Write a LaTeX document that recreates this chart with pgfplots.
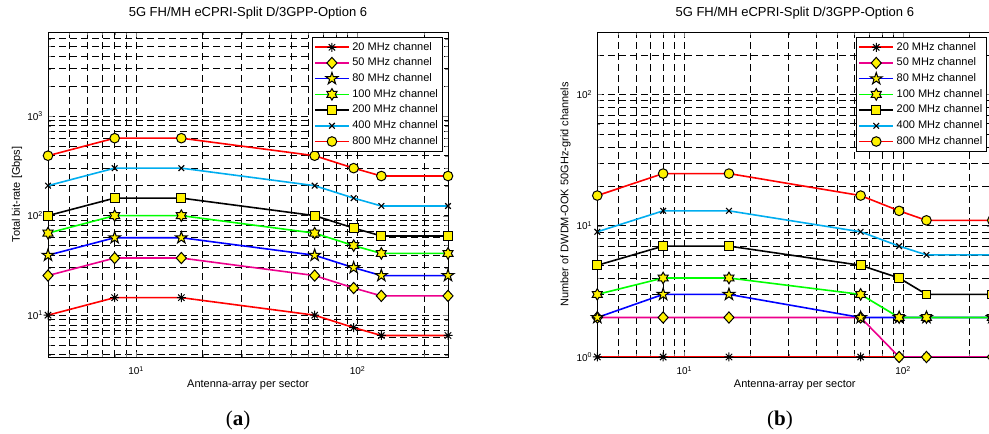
\documentclass[border=0pt]{standalone}
\usepackage{pgfplots}
\pgfplotsset{compat=1.18}
\usepackage{fontspec}
\setmainfont{Liberation Sans}
\newfontfamily\capfont{Liberation Serif}

\pgfdeclareplotmark{pentagram*}{%
  \pgfpathmoveto{\pgfpointpolar{90}{\pgfplotmarksize}}%
  \pgfpathlineto{\pgfpointpolar{126}{0.382\pgfplotmarksize}}%
  \pgfpathlineto{\pgfpointpolar{162}{\pgfplotmarksize}}%
  \pgfpathlineto{\pgfpointpolar{198}{0.382\pgfplotmarksize}}%
  \pgfpathlineto{\pgfpointpolar{234}{\pgfplotmarksize}}%
  \pgfpathlineto{\pgfpointpolar{270}{0.382\pgfplotmarksize}}%
  \pgfpathlineto{\pgfpointpolar{306}{\pgfplotmarksize}}%
  \pgfpathlineto{\pgfpointpolar{342}{0.382\pgfplotmarksize}}%
  \pgfpathlineto{\pgfpointpolar{18}{\pgfplotmarksize}}%
  \pgfpathlineto{\pgfpointpolar{54}{0.382\pgfplotmarksize}}%
  \pgfpathclose
  \pgfusepathqfillstroke}
\pgfdeclareplotmark{hexagram*}{%
  \pgfpathmoveto{\pgfpointpolar{90}{\pgfplotmarksize}}%
  \pgfpathlineto{\pgfpointpolar{120}{0.577\pgfplotmarksize}}%
  \pgfpathlineto{\pgfpointpolar{150}{\pgfplotmarksize}}%
  \pgfpathlineto{\pgfpointpolar{180}{0.577\pgfplotmarksize}}%
  \pgfpathlineto{\pgfpointpolar{210}{\pgfplotmarksize}}%
  \pgfpathlineto{\pgfpointpolar{240}{0.577\pgfplotmarksize}}%
  \pgfpathlineto{\pgfpointpolar{270}{\pgfplotmarksize}}%
  \pgfpathlineto{\pgfpointpolar{300}{0.577\pgfplotmarksize}}%
  \pgfpathlineto{\pgfpointpolar{330}{\pgfplotmarksize}}%
  \pgfpathlineto{\pgfpointpolar{0}{0.577\pgfplotmarksize}}%
  \pgfpathlineto{\pgfpointpolar{30}{\pgfplotmarksize}}%
  \pgfpathlineto{\pgfpointpolar{60}{0.577\pgfplotmarksize}}%
  \pgfpathclose
  \pgfusepathqfillstroke}
\pgfdeclareplotmark{mdiamond*}{%
  \pgfpathmoveto{\pgfqpoint{0pt}{\pgfplotmarksize}}%
  \pgfpathlineto{\pgfqpoint{0.9\pgfplotmarksize}{0pt}}%
  \pgfpathlineto{\pgfqpoint{0pt}{-\pgfplotmarksize}}%
  \pgfpathlineto{\pgfqpoint{-0.9\pgfplotmarksize}{0pt}}%
  \pgfpathclose
  \pgfusepathqfillstroke}
\pgfdeclareplotmark{matast}{%
  \pgfpathmoveto{\pgfqpoint{0pt}{\pgfplotmarksize}}%
  \pgfpathlineto{\pgfqpoint{0pt}{-\pgfplotmarksize}}%
  \pgfpathmoveto{\pgfqpoint{\pgfplotmarksize}{0pt}}%
  \pgfpathlineto{\pgfqpoint{-\pgfplotmarksize}{0pt}}%
  \pgfpathmoveto{\pgfqpoint{0.707\pgfplotmarksize}{0.707\pgfplotmarksize}}%
  \pgfpathlineto{\pgfqpoint{-0.707\pgfplotmarksize}{-0.707\pgfplotmarksize}}%
  \pgfpathmoveto{\pgfqpoint{0.707\pgfplotmarksize}{-0.707\pgfplotmarksize}}%
  \pgfpathlineto{\pgfqpoint{-0.707\pgfplotmarksize}{0.707\pgfplotmarksize}}%
  \pgfusepathqstroke}

\tikzset{
  ymark/.style={mark options={draw=black, fill=yellow, solid, line width=1pt}},
  serA/.style={red, line width=1.6pt, mark=matast, mark size=4.5pt, mark options={black, solid, line width=1pt}},
  serB/.style={magenta, line width=1.6pt, mark=mdiamond*, mark size=5.6pt, ymark},
  serC/.style={blue, line width=1.6pt, mark=pentagram*, mark size=6.3pt, ymark},
  serD/.style={green, line width=1.6pt, mark=hexagram*, mark size=5.8pt, ymark},
  serE/.style={black, line width=1.6pt, mark=square*, mark size=4.4pt, ymark},
  serF/.style={cyan, line width=1.6pt, mark=x, mark size=4pt, mark options={black, solid, line width=1.1pt}},
  serG/.style={red, line width=1.6pt, mark=*, mark size=4.8pt, ymark},
}
\pgfplotsset{
  every axis/.append style={
    scale only axis, height=325pt,
    xmin=4, xmax=256,
    grid=both,
    major grid style={dash pattern=on 7pt off 4pt, line width=0.6pt, black},
    minor grid style={dash pattern=on 7pt off 4pt, line width=0.6pt, black},
    axis line style={line width=0.9pt, black},
    major tick length=5pt, minor tick length=3pt,
    tick align=inside,
    xtick={10,100}, xticklabels={10\textsuperscript{1},10\textsuperscript{2}},
    minor xtick={4,5,6,7,8,9,20,30,40,50,60,70,80,90,200},
    xticklabel style={anchor=base, yshift=-18pt, inner sep=0pt, font=\fontsize{10}{12}\selectfont},
    yticklabel style={anchor=east, xshift=-5pt, inner sep=0pt, font=\fontsize{10}{12}\selectfont},
    title style={at={(0.5,1)}, anchor=base, yshift=9.3pt, font=\fontsize{13}{15}\selectfont},
    xlabel style={at={(0.5,0)}, anchor=base, yshift=-31pt, font=\fontsize{11}{13}\selectfont},
    ylabel style={anchor=base, font=\fontsize{11}{13}\selectfont},
    legend cell align=left,
    legend style={at={(1,1)}, anchor=north east, xshift=-5pt, yshift=-5pt, draw=black, line width=0.9pt, fill=white, inner sep=2pt, row sep=0pt, font=\fontsize{11}{13}\selectfont, nodes={text height=8pt, text depth=2.5pt, inner sep=2.6pt}},
    legend image code/.code={\draw[mark repeat=2,mark phase=2] plot coordinates {(0pt,0pt) (17pt,0pt) (34pt,0pt)};},
  }
}

\begin{document}
\begin{tikzpicture}
\useasboundingbox (0,0) rectangle (989pt,434pt);

\begin{loglogaxis}[at={(48pt,77pt)}, anchor=south west, width=400pt,
  ymin=3.8, ymax=7000,
  ytick={10,100,1000}, yticklabels={10\textsuperscript{1},10\textsuperscript{2},10\textsuperscript{3}},
  minor ytick={4,5,6,7,8,9,20,30,40,50,60,70,80,90,200,300,400,500,600,700,800,900,2000,3000,4000,5000,6000,7000},
  title={5G FH/MH eCPRI-Split D/3GPP-Option 6},
  xlabel={Antenna-array per sector},
  ylabel={Total bit-rate [Gbps]},
  ylabel style={at={(axis description cs:-0.07,0.5)}},
]
\addplot[serA] coordinates {(4,10) (8,15) (16,15) (64,10) (96,7.5) (128,6.25) (256,6.25)};
\addlegendentry{20 MHz channel}
\addplot[serB] coordinates {(4,25) (8,37.5) (16,37.5) (64,25) (96,18.75) (128,15.625) (256,15.625)};
\addlegendentry{50 MHz channel}
\addplot[serC] coordinates {(4,40) (8,60) (16,60) (64,40) (96,30) (128,25) (256,25)};
\addlegendentry{80 MHz channel}
\addplot[serD] coordinates {(4,66.7) (8,100) (16,100) (64,66.7) (96,50) (128,41.7) (256,41.7)};
\addlegendentry{100 MHz channel}
\addplot[serE] coordinates {(4,100) (8,150) (16,150) (64,100) (96,75) (128,62.5) (256,62.5)};
\addlegendentry{200 MHz channel}
\addplot[serF] coordinates {(4,200) (8,300) (16,300) (64,200) (96,150) (128,125) (256,125)};
\addlegendentry{400 MHz channel}
\addplot[serG] coordinates {(4,400) (8,600) (16,600) (64,400) (96,300) (128,250) (256,250)};
\addlegendentry{800 MHz channel}
\end{loglogaxis}

\begin{loglogaxis}[at={(597.3pt,77pt)}, anchor=south west, width=395pt,
  ymin=1, ymax=300,
  ytick={1,10,100}, yticklabels={10\textsuperscript{0},10\textsuperscript{1},10\textsuperscript{2}},
  minor ytick={2,3,4,5,6,7,8,9,20,30,40,50,60,70,80,90,200,300},
  title={5G FH/MH eCPRI-Split D/3GPP-Option 6},
  xlabel={Antenna-array per sector},
  ylabel={Number of DWDM-OOK 50GHz-grid channels},
  ylabel style={at={(axis description cs:-0.073,0.5)}},
]
\addplot[serA] coordinates {(4,1) (8,1) (16,1) (64,1) (96,1) (128,1) (256,1)};
\addlegendentry{20 MHz channel}
\addplot[serB] coordinates {(4,2) (8,2) (16,2) (64,2) (96,1) (128,1) (256,1)};
\addlegendentry{50 MHz channel}
\addplot[serC] coordinates {(4,2) (8,3) (16,3) (64,2) (96,2) (128,2) (256,2)};
\addlegendentry{80 MHz channel}
\addplot[serD] coordinates {(4,3) (8,4) (16,4) (64,3) (96,2) (128,2) (256,2)};
\addlegendentry{100 MHz channel}
\addplot[serE] coordinates {(4,5) (8,7) (16,7) (64,5) (96,4) (128,3) (256,3)};
\addlegendentry{200 MHz channel}
\addplot[serF] coordinates {(4,9) (8,13) (16,13) (64,9) (96,7) (128,6) (256,6)};
\addlegendentry{400 MHz channel}
\addplot[serG] coordinates {(4,17) (8,25) (16,25) (64,17) (96,13) (128,11) (256,11)};
\addlegendentry{800 MHz channel}
\end{loglogaxis}

\node[anchor=base, font=\capfont\fontsize{21}{24}\selectfont] at (238pt,8.5pt) {(\textbf{a})};
\node[anchor=base, font=\capfont\fontsize{21}{24}\selectfont] at (780pt,8.5pt) {(\textbf{b})};
\end{tikzpicture}
\end{document}
